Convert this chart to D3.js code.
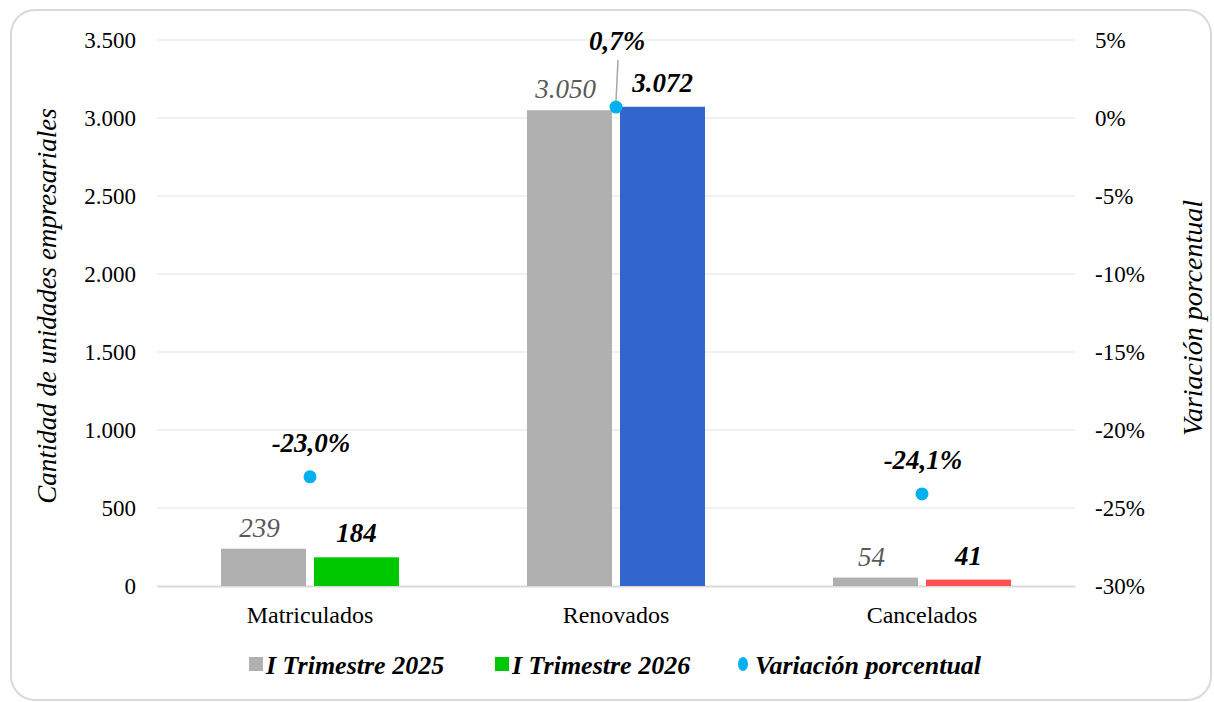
<!DOCTYPE html>
<html>
<head>
<meta charset="utf-8">
<script src="https://cdn.jsdelivr.net/npm/d3@7"></script>
<style>
  body { margin: 0; background: #fff; }
  svg text { font-family: "Liberation Serif", "Times New Roman", serif; }
</style>
</head>
<body>
<svg id="chart" width="1214" height="702"></svg>
<script>
const categories = ["Matriculados", "Renovados", "Cancelados"];
const values2025 = [239, 3050, 54];
const values2026 = [184, 3072, 41];
const variation = [-23.0, 0.7, -24.1];
const labels2025 = ["239", "3.050", "54"];
const labels2026 = ["184", "3.072", "41"];
const variationLabels = ["-23,0%", "0,7%", "-24,1%"];
const leftTicks = [0, 500, 1000, 1500, 2000, 2500, 3000, 3500];
const rightTicks = [5, 0, -5, -10, -15, -20, -25, -30];
const colors2026 = ["#00c800", "#3366cc", "#ff5050"];

const FONT = "Liberation Serif, Times New Roman, serif";

const margin = { top: 40, right: 139, bottom: 116, left: 157 },
      width = 1214 - margin.left - margin.right,
      height = 702 - margin.top - margin.bottom;

const svg = d3.select("#chart");

// outer frame
svg.append("rect")
   .attr("x", 11).attr("y", 10)
   .attr("width", 1200).attr("height", 690)
   .attr("rx", 24)
   .attr("fill", "#fff")
   .attr("stroke", "#d9d9d9")
   .attr("stroke-width", 2);

const g = svg.append("g")
             .attr("transform", `translate(${margin.left},${margin.top})`);

const x = d3.scaleBand().domain(categories).range([0, width]);
const y = d3.scaleLinear().domain([0, 3500]).range([height, 0]);
const y2 = d3.scaleLinear().domain([-30, 5]).range([height, 0]);

// gridlines
g.selectAll(".grid")
 .data(leftTicks.slice(1))
 .enter().append("line")
 .attr("x1", 0).attr("x2", width)
 .attr("y1", d => y(d)).attr("y2", d => y(d))
 .attr("stroke", "#ececec")
 .attr("stroke-width", 1.5);

// axes
const yAxis = d3.axisLeft(y).tickValues(leftTicks)
                .tickFormat(d => d3.format(",")(d).replace(/,/g, ".")).tickSize(0).tickPadding(21);
const yAxisG = g.append("g").call(yAxis).attr("font-family", FONT);
yAxisG.select(".domain").remove();
yAxisG.selectAll("text").style("font-size", "23px").attr("fill", "#000");

const y2Axis = d3.axisRight(y2).tickValues(rightTicks)
                 .tickFormat(d => d + "%").tickSize(0).tickPadding(20);
const y2AxisG = g.append("g").attr("transform", `translate(${width},0)`).call(y2Axis).attr("font-family", FONT);
y2AxisG.select(".domain").remove();
y2AxisG.selectAll("text").style("font-size", "23px").attr("fill", "#000");

const xAxisG = g.append("g").attr("transform", `translate(0,${height})`)
                .call(d3.axisBottom(x).tickSize(0).tickPadding(20)).attr("font-family", FONT);
xAxisG.select(".domain").attr("stroke", "#d9d9d9").attr("stroke-width", 2);
xAxisG.selectAll("text").style("font-size", "24px").attr("fill", "#000");

// bars
const barW = 85, gap = 8;
const cx = d => x(d) + x.bandwidth() / 2;

g.selectAll(".bar25")
 .data(categories)
 .enter().append("rect")
 .attr("x", d => cx(d) - gap / 2 - barW)
 .attr("y", (d, i) => y(values2025[i]))
 .attr("width", barW)
 .attr("height", (d, i) => height - y(values2025[i]))
 .attr("fill", "#b0b0b0");

g.selectAll(".bar26")
 .data(categories)
 .enter().append("rect")
 .attr("x", d => cx(d) + gap / 2)
 .attr("y", (d, i) => y(values2026[i]))
 .attr("width", barW)
 .attr("height", (d, i) => height - y(values2026[i]))
 .attr("fill", (d, i) => colors2026[i]);

// bar labels
g.selectAll(".lab25")
 .data(categories)
 .enter().append("text")
 .attr("x", d => cx(d) - gap / 2 - barW / 2 - 4)
 .attr("y", (d, i) => y(values2025[i]) - 12)
 .attr("text-anchor", "middle")
 .style("font-size", "27px")
 .style("font-style", "italic")
 .attr("fill", "#595959")
 .text((d, i) => labels2025[i]);

g.selectAll(".lab26")
 .data(categories)
 .enter().append("text")
 .attr("x", d => cx(d) + gap / 2 + barW / 2)
 .attr("y", (d, i) => y(values2026[i]) - 15)
 .attr("text-anchor", "middle")
 .style("font-size", "27px")
 .style("font-style", "italic")
 .style("font-weight", "bold")
 .attr("fill", "#000")
 .text((d, i) => labels2026[i]);

// variation points
g.selectAll(".dot")
 .data(categories)
 .enter().append("circle")
 .attr("cx", d => cx(d))
 .attr("cy", (d, i) => y2(variation[i]))
 .attr("r", 6.5)
 .attr("fill", "#00b0f0");

// leader line for Renovados label
const ri = 1;
g.append("line")
 .attr("x1", cx(categories[ri])).attr("y1", y2(variation[ri]) - 6)
 .attr("x2", cx(categories[ri]) + 2).attr("y2", y2(variation[ri]) - 47)
 .attr("stroke", "#a6a6a6").attr("stroke-width", 1.5);

g.selectAll(".varlab")
 .data(categories)
 .enter().append("text")
 .attr("x", d => cx(d) + 1)
 .attr("y", (d, i) => i === ri ? y2(variation[i]) - 57 : y2(variation[i]) - 25)
 .attr("text-anchor", "middle")
 .style("font-size", "27px")
 .style("font-style", "italic")
 .style("font-weight", "bold")
 .attr("fill", "#000")
 .text((d, i) => variationLabels[i]);

// axis titles
svg.append("text")
   .attr("transform", "translate(56,306) rotate(-90)")
   .attr("text-anchor", "middle")
   .style("font-size", "27px")
   .style("font-style", "italic")
   .text("Cantidad de unidades empresariales");

svg.append("text")
   .attr("transform", "translate(1202,318) rotate(-90)")
   .attr("text-anchor", "middle")
   .style("font-size", "28px")
   .style("font-style", "italic")
   .text("Variación porcentual");

// legend
const legend = svg.append("g").attr("transform", "translate(0,666)");
const legendItems = [
  { label: "I Trimestre 2025", color: "#b0b0b0", type: "rect", x: 249 },
  { label: "I Trimestre 2026", color: "#00c800", type: "rect", x: 495 },
  { label: "Variación porcentual", color: "#00b0f0", type: "circle", x: 738 }
];
legendItems.forEach(it => {
  if (it.type === "rect") {
    legend.append("rect").attr("x", it.x).attr("y", -9).attr("width", 14).attr("height", 14).attr("fill", it.color);
  } else {
    legend.append("ellipse").attr("cx", it.x + 5).attr("cy", -2).attr("rx", 5).attr("ry", 7).attr("fill", it.color);
  }
  legend.append("text")
        .attr("x", it.x + (it.type === "rect" ? 17 : 17))
        .attr("y", 8)
        .style("font-size", "26px")
        .style("font-style", "italic")
        .style("font-weight", "bold")
        .text(it.label);
});
</script>
</body>
</html>
